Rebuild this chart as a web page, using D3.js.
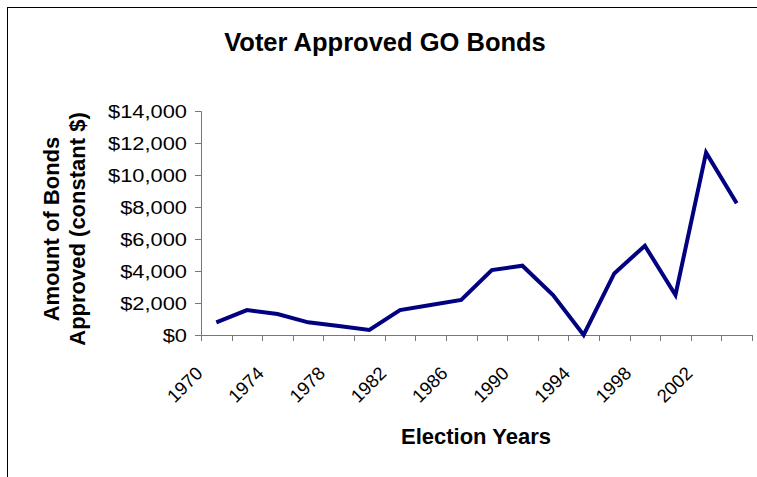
<!DOCTYPE html>
<html>
<head>
<meta charset="utf-8">
<script src="https://cdn.jsdelivr.net/npm/d3@7"></script>
<style>
  body { margin: 0; background: #fff; }
  svg { display: block; font-family: "Liberation Sans", Arial, sans-serif; }
</style>
</head>
<body>
<script>
svgWidth = 757
svgHeight = 477
margin = {"top": 111, "bottom": 142, "left": 201, "right": 5}

// election years (every two years) and approved GO bonds, constant $
var years = ['1970', '1972', '1974', '1976', '1978', '1980', '1982', '1984', '1986',
             '1988', '1990', '1992', '1994', '1996', '1998', '2000', '2002', '2004']
var bonds = [790, 1560, 1310, 790, 560, 310, 1560, 1870, 2190,
             4060, 4330, 2500, 0, 3850, 5580, 2500, 11400, 8230]
var labelYears = ['1970', '1974', '1978', '1982', '1986', '1990', '1994', '1998', '2002']
var yTicks = [0, 2000, 4000, 6000, 8000, 10000, 12000, 14000]

var data1 = years.map(function(y, i) { return {key: y, value: bonds[i]} })

xScale = d3.scaleBand()
            .domain(years)
            .range([margin.left, 752])

yScale = d3.scaleLinear()
            .domain([0, 14000])
            .range([svgHeight - margin.bottom, margin.top])

var svg = d3.select("body").append("svg")
          .attr("width", svgWidth)
          .attr("height", svgHeight)

// chart frame
svg.append("rect")
    .attr("x", 7.5).attr("y", 7.5)
    .attr("width", 800).attr("height", 500)
    .attr("fill", "none")
    .attr("stroke", "#000")
    .attr("stroke-width", 1)

svg.append("text")
    .attr("x", 385)
    .attr("y", 51)
    .attr("text-anchor", "middle")
    .attr("font-size", "25.5px")
    .attr("font-weight", "bold")
    .text("Voter Approved GO Bonds")

// y axis
yAxis = d3.axisLeft(yScale)
            .tickValues(yTicks)
            .tickSize(6)
            .tickPadding(0)
            .tickFormat(function(d) { return "$" + d3.format(",")(d) })

var yG = svg.append('g')
    .attr('transform', 'translate(' + margin.left + ', 0)')
    .call(yAxis)

yG.select('.domain').attr('stroke', '#777')
yG.selectAll('.tick line').attr('stroke', '#777')
yG.selectAll('.tick text')
    .attr('font-size', '19px')
    .attr('fill', '#000')
    .attr('font-family', '"Liberation Sans", Arial, sans-serif')
    .attr('x', -14 / 1.15)
    .attr('transform', 'scale(1.15,1)')

// x axis: ticks between categories
var bounds = years.map(function(y) { return xScale(y) }).concat([xScale.range()[1]])

var xG = svg.append('g')
svgBase = yScale(0)
xG.append('line')
    .attr('x1', margin.left - 6).attr('x2', xScale.range()[1])
    .attr('y1', svgBase + 0.5).attr('y2', svgBase + 0.5)
    .attr('stroke', '#777')

xG.selectAll('.xtick')
    .data(bounds)
    .enter().append('line')
      .attr('class', 'xtick')
      .attr('x1', function(d) { return Math.round(d) + 0.5 })
      .attr('x2', function(d) { return Math.round(d) + 0.5 })
      .attr('y1', svgBase)
      .attr('y2', svgBase + 6)
      .attr('stroke', '#777')

xG.selectAll('.xlabel')
    .data(labelYears)
    .enter().append('text')
      .attr('class', 'xlabel')
      .attr('transform', function(d) {
        var cx = xScale(d) + xScale.bandwidth() / 2 - 17
        return 'translate(' + cx + ',' + 370 + ') rotate(-45)'
      })
      .attr('dy', '0.35em')
      .attr('text-anchor', 'end')
      .attr('font-size', '18.5px')
      .text(function(d) { return d })

svg.append('text')
    .attr('x', 476)
    .attr('y', 444)
    .attr('text-anchor', 'middle')
    .attr('font-size', '22px')
    .attr('font-weight', 'bold')
    .text('Election Years')

// y axis title, two lines
var yTitle = svg.append('text')
    .attr('transform', 'translate(59, 229) rotate(-90)')
    .attr('text-anchor', 'middle')
    .attr('font-size', '22px')
    .attr('font-weight', 'bold')

yTitle.append('tspan').attr('x', 0).attr('y', 0).text('Amount of Bonds')
yTitle.append('tspan').attr('x', 0).attr('y', 26).text('Approved (constant $)')

// the line
var line = d3.line()
    .x(function(d) { return xScale(d.key) + xScale.bandwidth() / 2 })
    .y(function(d) { return yScale(d.value) })

svg.append('path')
    .datum(data1)
    .attr('d', line)
    .attr('fill', 'none')
    .attr('stroke', '#000080')
    .attr('stroke-width', 4)
    .attr('stroke-linejoin', 'miter')
</script>
</body>
</html>
